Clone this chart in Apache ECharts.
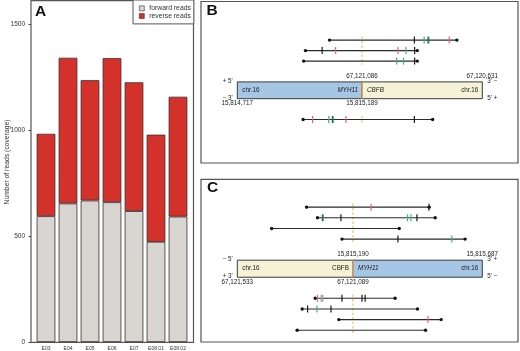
<!DOCTYPE html>
<html><head><meta charset="utf-8">
<script src="https://cdn.jsdelivr.net/npm/echarts@6/dist/echarts.min.js"></script>
<style>html,body{margin:0;padding:0;background:#fff}#c{width:520px;height:351px}</style>
</head><body><div id="c"></div>
<script>
// ---------- Panel A data ----------
const samples = ['E03', 'E04', 'E05', 'E06', 'E07', 'E08.01', 'E08.02'];
const forwardReads = [594, 654, 668, 660, 618, 473, 592];
const reverseReads = [389, 688, 568, 680, 608, 506, 566];
const seriesNames = ['forward reads', 'reverse reads'];
const yAxisTitle = 'Number of reads (coverage)';

// ---------- Panel B data (fusion MYH11 | CBFB) ----------
const bGenes = ['MYH11', 'CBFB'];
const bOuterCoord = [15814717, 67120631];
const bJunctionCoord = [15815189, 67121086];
const bCoordText = ['15,814,717', '15,815,189', '67,121,086', '67,120,631'];
const bStrandLeft = ["+ 5'", "\u2212 3'"];
const bStrandRight = ["3' \u2212", "5' +"];
// reads: bp offsets from the junction, lane (+ above, - below)
const bReadStart = [-123, -214, -221, -223];
const bReadEnd = [359, 209, 209, 267];
const bReadLane = [3, 2, 1, -1];
const bTickPos = [198, 235, 251, 330, -151, -100, 136, 166, 199, 131, 157, 199, -187, -126, -111, -61, 198];
const bTickLane = [3, 3, 3, 3, 2, 2, 2, 2, 2, 1, 1, 1, -1, -1, -1, -1, -1];
const bTickKind = ['k', 'g', 'G', 'r', 'k', 'r', 'r', 'g', 'k', 'g', 'g', 'k', 'r', 'g', 'G', 'r', 'k'];

// ---------- Panel C data (fusion CBFB | MYH11) ----------
const cGenes = ['CBFB', 'MYH11'];
const cOuterCoord = [67121533, 15815687];
const cJunctionCoord = [67121089, 15815190];
const cCoordText = ['67,121,533', '67,121,089', '15,815,190', '15,815,687'];
const cStrandLeft = ["\u2212 5'", "+ 3'"];
const cStrandRight = ["3' +", "5' \u2212"];
const cReadStart = [-178, -136, -312, -42, -145, -195, -54, -214];
const cReadEnd = [293, 316, 178, 431, 162, 248, 339, 279];
const cReadLane = [4, 3, 2, 1, -1, -2, -3, -4];
const cTickPos = [70, 292, -116, -46, 210, 223, 246, 173, 380, -136, -122, -116, -42, 35, 47, -174, -138, -84, 288];
const cTickLane = [4, 4, 3, 3, 3, 3, 3, 1, 1, -1, -1, -1, -1, -1, -1, -2, -2, -2, -3];
const cTickKind = ['r', 'k', 'G', 'k', 'g', 'g', 'k', 'k', 'g', 'r', 'n', 'n', 'k', 'k', 'k', 'k', 'g', 'k', 'r'];

// ---------- styling / layout ----------
const FONT = 'Liberation Sans, Arial, sans-serif';
const KIND_COLOR = { k: '#1a1a1a', r: '#e06670', g: '#3fb27f', G: '#1d7048', n: '#9a9a9a' };
const GENE_COLOR = { MYH11: '#a6c6e6', CBFB: '#f5f2d6' };
const GAP = 1.78, HALF = 0.8;
const laneY = l => Math.sign(l) * (GAP + Math.abs(l));

function panelSeries(gi, genes, outer, junction, coordText, strandL, strandR,
                     rStart, rEnd, rLane, tPos, tLane, tKind, italic) {
  const lenL = Math.abs(junction[0] - outer[0]);
  const lenR = Math.abs(junction[1] - outer[1]);
  const segs = [[-lenL, 0, 0], [0, lenR, 1]];
  const txt = (text, x, y, align, vAlign, extra) => ({
    type: 'text', silent: true,
    style: Object.assign({ text, x, y, align, verticalAlign: vAlign, fill: '#222',
      fontSize: 6.3, fontFamily: FONT }, extra || {})
  });
  const box = {
    type: 'custom', xAxisIndex: gi, yAxisIndex: gi, data: segs, z: 2,
    encode: { x: [0, 1] },
    renderItem: (params, api) => {
      const i = api.value(2);
      const a = api.coord([api.value(0), HALF]);
      const b = api.coord([api.value(1), -HALF]);
      const g = genes[i];
      const ch = [{
        type: 'rect', shape: { x: a[0], y: a[1], width: b[0] - a[0], height: b[1] - a[1] },
        style: { fill: GENE_COLOR[g], stroke: '#3a3a3a', lineWidth: 1 }
      }];
      const gStyle = { fontStyle: italic[i] ? 'italic' : 'normal' };
      const midY = (a[1] + b[1]) / 2;
      if (i === 0) {
        ch.push(txt('chr.16', a[0] + 5, midY, 'left', 'middle'));
        ch.push(txt(g, b[0] - 4, midY, 'right', 'middle', gStyle));
        ch.push(txt(coordText[0], a[0], b[1] + 5, 'center', 'middle'));
        ch.push(txt(coordText[1], b[0], b[1] + 5, 'center', 'middle'));
        ch.push(txt(strandL[0], a[0] - 4.5, a[1] - 1, 'right', 'middle'));
        ch.push(txt(strandL[1], a[0] - 4.5, b[1] - 0.5, 'right', 'middle'));
      } else {
        ch.push(txt(g, a[0] + 5, midY, 'left', 'middle', gStyle));
        ch.push(txt('chr.16', b[0] - 4, midY, 'right', 'middle'));
        ch.push(txt(coordText[2], a[0], a[1] - 6, 'center', 'middle'));
        ch.push(txt(coordText[3], b[0], a[1] - 6, 'center', 'middle'));
        ch.push(txt(strandR[0], b[0] + 5, a[1] - 1, 'left', 'middle'));
        ch.push(txt(strandR[1], b[0] + 5, b[1] - 0.5, 'left', 'middle'));
      }
      return { type: 'group', children: ch };
    }
  };
  const split = {
    type: 'custom', xAxisIndex: gi, yAxisIndex: gi, z: 3, data: [[0]],
    renderItem: (params, api) => {
      const x = api.value(0);
      const up = rLane.filter(l => l > 0), dn = rLane.filter(l => l < 0);
      const ch = [];
      const seg = (y0, y1, dash) => {
        const p = api.coord([x, y0]), q = api.coord([x, y1]);
        ch.push({ type: 'line', shape: { x1: p[0], y1: p[1], x2: q[0], y2: q[1] },
          style: { stroke: '#f0b25a', lineWidth: dash ? 1 : 1.3, lineDash: dash ? [2.5, 2] : null } });
      };
      if (up.length) seg(laneY(Math.max(...up)) + 0.35, laneY(Math.min(...up)) - 0.35, true);
      if (dn.length) seg(laneY(Math.max(...dn)) + 0.35, laneY(Math.min(...dn)) - 0.35, true);
      seg(HALF, -HALF, false);
      return { type: 'group', children: ch };
    }
  };
  const reads = {
    type: 'custom', xAxisIndex: gi, yAxisIndex: gi, z: 4,
    data: rStart.map((s, i) => [s, rEnd[i], laneY(rLane[i])]),
    encode: { x: [0, 1], y: 2 },
    renderItem: (params, api) => {
      const y = api.value(2);
      const p = api.coord([api.value(0), y]), q = api.coord([api.value(1), y]);
      return { type: 'group', children: [
        { type: 'line', shape: { x1: p[0], y1: p[1], x2: q[0], y2: q[1] }, style: { stroke: '#2a2a2a', lineWidth: 1.1 } },
        { type: 'circle', shape: { cx: p[0], cy: p[1], r: 1.7 }, style: { fill: '#111' } },
        { type: 'circle', shape: { cx: q[0], cy: q[1], r: 1.7 }, style: { fill: '#111' } }
      ] };
    }
  };
  const ticks = {
    type: 'scatter', xAxisIndex: gi, yAxisIndex: gi, z: 5, symbol: 'rect',
    data: tPos.map((x, i) => [x, laneY(tLane[i]), tKind[i]]),
    symbolSize: (v) => [v[2] === 'G' ? 1.8 : 1.2, 7],
    itemStyle: { color: (p) => KIND_COLOR[p.data[2]], opacity: 1 },
    silent: true
  };
  return { series: [box, split, reads, ticks], min: -lenL, max: lenR };
}

const B = panelSeries(1, bGenes, bOuterCoord, bJunctionCoord, bCoordText, bStrandLeft, bStrandRight,
  bReadStart, bReadEnd, bReadLane, bTickPos, bTickLane, bTickKind, [true, true]);
const C = panelSeries(2, cGenes, cOuterCoord, cJunctionCoord, cCoordText, cStrandLeft, cStrandRight,
  cReadStart, cReadEnd, cReadLane, cTickPos, cTickLane, cTickKind, [false, true]);

const chart = echarts.init(document.getElementById('c'), null, { renderer: 'canvas' });
const frame = (x, y, w, h) => ({ type: 'rect', shape: { x, y, width: w, height: h },
  style: { fill: 'none', stroke: '#555', lineWidth: 1.2 }, silent: true, z: 0 });
const letter = (t, x, y) => ({ type: 'text', x, y, style: { text: t, fontSize: 15.5, fontWeight: 'bold',
  fontFamily: FONT, fill: '#111', verticalAlign: 'top' }, z: 10 });

chart.setOption({
  animation: false,
  backgroundColor: '#fff',
  grid: [
    { left: 35, width: 154, top: 24.3, bottom: 8.7 },
    { left: 237.3, width: 245, top: 27.3, height: 126 },
    { left: 237.3, width: 245, top: 204.8, height: 127.8 }
  ],
  xAxis: [
    { gridIndex: 0, type: 'category', data: samples, axisLine: { show: false }, axisTick: { show: false },
      axisLabel: { fontSize: 5, margin: 4, color: '#333', fontFamily: FONT } },
    { gridIndex: 1, type: 'value', min: B.min, max: B.max, show: false },
    { gridIndex: 2, type: 'value', min: C.min, max: C.max, show: false }
  ],
  yAxis: [
    { gridIndex: 0, type: 'value', min: 0, max: 1500, interval: 500, offset: 4,
      axisLine: { show: false }, splitLine: { show: false },
      axisTick: { show: true, length: 2.5, lineStyle: { color: '#444' } },
      axisLabel: { fontSize: 6.5, margin: 6, color: '#333', formatter: v => String(v),
        fontFamily: 'Liberation Sans Narrow, Arial Narrow, sans-serif' } },
    { gridIndex: 1, type: 'value', min: -6, max: 6, show: false },
    { gridIndex: 2, type: 'value', min: -6, max: 6, show: false }
  ],
  legend: {
    data: seriesNames, orient: 'vertical', left: 133, top: 0, padding: [4.5, 3, 4, 6],
    itemWidth: 5, itemHeight: 5, itemGap: 0, icon: 'rect', selectedMode: false,
    itemStyle: { borderWidth: 0.6, borderColor: '#333' },
    borderColor: '#555', borderWidth: 1, backgroundColor: '#fff',
    textStyle: { fontSize: 6.8, fontFamily: FONT, color: '#333', lineHeight: 7.7 }
  },
  graphic: [
    frame(31, 0.6, 162.5, 341.7),
    frame(201, 1.5, 317, 161.5),
    frame(201, 179.3, 317, 162.7),
    letter('A', 35, 4), letter('B', 206.5, 3), letter('C', 207, 180),
    { type: 'text', x: 7, y: 162, rotation: Math.PI / 2,
      style: { text: yAxisTitle, fontSize: 6.8, fontFamily: FONT, fill: '#333', align: 'center', verticalAlign: 'middle' } }
  ],
  series: [
    { type: 'bar', name: seriesNames[0], data: forwardReads, stack: 'reads', barWidth: '85%',
      xAxisIndex: 0, yAxisIndex: 0,
      itemStyle: { color: '#d9d6d1', borderColor: '#3a2e2e', borderWidth: 0.8 } },
    { type: 'bar', name: seriesNames[1], data: reverseReads, stack: 'reads',
      xAxisIndex: 0, yAxisIndex: 0,
      itemStyle: { color: '#d5312b', borderColor: '#3a2e2e', borderWidth: 0.8 } },
    ...B.series, ...C.series
  ]
});
</script></body></html>
